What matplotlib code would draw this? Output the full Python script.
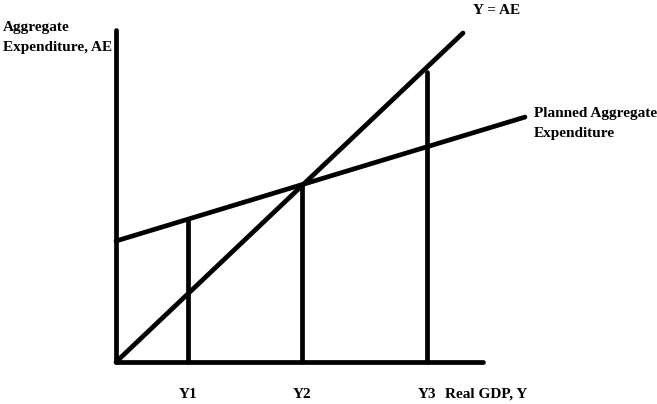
import matplotlib
matplotlib.use("Agg")
import matplotlib.pyplot as plt

# Data (schematic units: origin at the axes corner)
ae45_x = [0, 347]
ae45_y = [0, 329]
pae_intercept = 121
pae_slope = 0.303
pae_x_end = 409
y_positions = [72, 186, 311]
y_labels = ["Y1", "Y2", "Y3"]
vline_tops = [pae_intercept + pae_slope * 72, pae_intercept + pae_slope * 186, 290]
yaxis_top = 332
xaxis_right = 367

fig = plt.figure(figsize=(6.57, 4.04), dpi=100)
ax = fig.add_axes([0, 0, 1, 1])
ax.set_xlim(-116, 541)
ax.set_ylim(-42, 362)
ax.axis("off")

lw = 3.4
kw = dict(color="black", lw=lw, solid_capstyle="round")
# axes
ax.plot([0, 0], [0, yaxis_top], **kw)
ax.plot([0, xaxis_right], [0, 0], **kw)
# 45 degree line
ax.plot(ae45_x, ae45_y, **kw)
# planned AE
ax.plot([0, pae_x_end], [pae_intercept, pae_intercept + pae_slope * pae_x_end], **kw)
# vertical lines
for x, top in zip(y_positions, vline_tops):
    ax.plot([x, x], [0, top], **kw)

font = dict(family="Liberation Serif", fontweight="bold", fontsize=11, color="black")
for x, lab in zip(y_positions, y_labels):
    ax.text(x, -32, lab, ha="center", va="center", **font)
ax.text(329, -32, "Real GDP, Y", ha="left", va="center", **font)

ax.text(-113, 334, "Aggregate", ha="left", va="center", **font)
ax.text(-113, 315, "Expenditure, AE", ha="left", va="center", **font)
ax.text(357, 352, "Y = AE", ha="left", va="center", **font)
ax.text(418, 248, "Planned Aggregate", ha="left", va="center", **font)
ax.text(418, 229, "Expenditure", ha="left", va="center", **font)

fig.savefig("out.png", dpi=100)
